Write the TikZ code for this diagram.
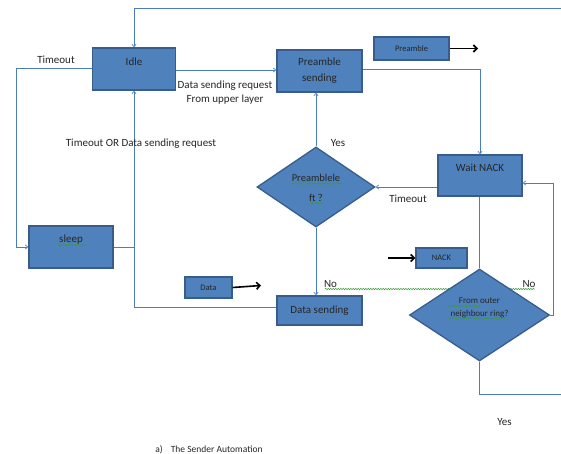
\documentclass[tikz,border=0pt]{standalone}
\usepackage{fontspec}
\setmainfont{Carlito}
\usetikzlibrary{shapes.geometric,arrows.meta,decorations.pathmorphing}
\definecolor{boxfill}{HTML}{4F81BD}
\definecolor{boxline}{HTML}{385D8A}
\definecolor{connc}{HTML}{4A7EBB}
\definecolor{wavyc}{HTML}{3C9A3C}
\tikzset{
  box/.style={draw=boxline, fill=boxfill, line width=1.3pt, inner sep=0pt},
  dia/.style={diamond, draw=boxline, fill=boxfill, line width=1.3pt, inner sep=0pt},
  conn/.style={draw=connc, line width=0.7pt, -{Straight Barb[length=2.5pt,width=4pt]}},
  plain/.style={draw=connc, line width=0.7pt},
  thick arrow/.style={draw=black, line width=1.6pt, -{Straight Barb[length=3.5pt,width=7pt]}},
  txt/.style={font=\fontsize{11}{16}\selectfont, text=black!85, align=center, inner sep=0pt},
  smalltxt/.style={font=\fontsize{8.5}{10}\selectfont, text=black!85, inner sep=0pt},
  wavy/.style={draw=wavyc, line width=0.5pt, decorate, decoration={snake, amplitude=0.7pt, segment length=2.5pt}}
}
\begin{document}
\begin{tikzpicture}[x=1pt,y=-1pt]
\useasboundingbox (0,0) rectangle (561,454);
\fill[white] (0,0) rectangle (561,454);

% wavy line behind "No ... No"
\coordinate (wva) at (325,289);
\coordinate (wvb) at (535,289);
\draw[wavy] (wva) -- (wvb);

% boxes
\node[box, minimum width=83pt, minimum height=42pt] (idle) at (134,69) {};
\node[txt] (idlet) at (134,62) {Idle};
\node[box, minimum width=85pt, minimum height=42pt] (pre) at (319.5,71) {};
\node[txt] (pret) at (319.5,71) {Preamble\\sending};
\node[box, minimum width=75pt, minimum height=23pt] (pream) at (411.5,48.5) {};
\node[smalltxt] (preamt) at (411.5,48.5) {Preamble};
\coordinate (preamend) at (478,48.5);
\node[box, minimum width=84pt, minimum height=41pt] (wait) at (480,175.5) {};
\node[txt] (waitt) at (480,168) {Wait NACK};
\node[box, minimum width=84pt, minimum height=42pt] (sleep) at (71,247) {};
\node[txt] (sleept) at (71,240) {sleep};
\node[box, minimum width=85pt, minimum height=29pt] (ds) at (319.5,310.5) {};
\node[txt] (dst) at (319.5,310.5) {Data sending};
\node[box, minimum width=47pt, minimum height=21pt] (data) at (208.5,287.5) {};
\node[smalltxt] (datat) at (208.5,287.5) {Data};
\coordinate (dataend) at (261,285.5);
\node[box, minimum width=51pt, minimum height=20pt] (nack) at (441.5,258) {};
\node[smalltxt] (nackt) at (441.5,258) {NACK};
\coordinate (nackstart) at (388,258);

% diamonds
\node[dia, minimum width=118pt, minimum height=80pt] (d1) at (316,187) {};
\node[txt, font=\fontsize{10.5}{20}\selectfont] (d1t) at (316,188) {Preamblele\\ft ?};
\node[dia, minimum width=140pt, minimum height=92pt] (d2) at (479.5,315) {};
\node[txt, font=\fontsize{9}{12.5}\selectfont] (d2t) at (479.5,308) {From outer\\neighbour ring?};

% wavy underlines
\draw[wavy] (291,183.5) -- (342,183.5);
\draw[wavy] (310,203) -- (323,203);
\draw[wavy] (58,245) -- (85,245);
\draw[wavy] (447,306) -- (480,306);
\draw[wavy] (447,318) -- (506,318);

% thick black arrows
\draw[thick arrow] (pream.east) -- (preamend);
\draw[thick arrow] (data.east) -- (dataend);
\draw[thick arrow] (nackstart) -- (nack.west);

% connectors
\coordinate (rtop) at (561,8);
\coordinate (rbot) at (561,394);
\draw[conn] (rtop) -| (idle.north);
\draw[conn] (idle.east |- 0,70) -- (pre.west |- 0,70);
\coordinate (lcorner) at (16,68);
\draw[conn] (idle.west |- 0,68) -- (lcorner) |- (sleep.west);
\draw[plain] (sleep.east) -- (sleep.east -| idle.south);
\draw[conn] (ds.west |- 0,307) -| (idle.south);
\draw[conn] (pre.east |- 0,69) -| (wait.north);
\draw[conn] (d1.north) -- (d1.north |- pre.south);
\draw[conn] (wait.west |- d1.east) -- (d1.east);
\draw[conn] (d1.south) -- (d1.south |- ds.north);
\draw[plain] (wait.south -| d2.north) -- (d2.north);
\coordinate (rcorner) at (553,315);
\draw[conn] (d2.east) -- (rcorner) |- (wait.east |- 0,183);
\draw[plain] (d2.south) |- (rbot);

% labels
\node[txt] (l1) at (56,60) {Timeout};
\node[txt, font=\fontsize{11}{14}\selectfont] (l2) at (225,93) {Data sending request\\From upper layer};
\node[txt] (l3) at (141,144) {Timeout OR Data sending request};
\node[txt] (l4) at (338,143) {Yes};
\node[txt] (l5) at (408,199) {Timeout};
\node[txt] (l6) at (330.5,284) {No};
\node[txt] (l7) at (529,284) {No};
\node[txt] (l8) at (504.5,422) {Yes};
\node[txt, font=\fontsize{9.5}{12}\selectfont] (cap) at (209,450) {a)\hspace{8pt}The Sender Automation};
\end{tikzpicture}
\end{document}
